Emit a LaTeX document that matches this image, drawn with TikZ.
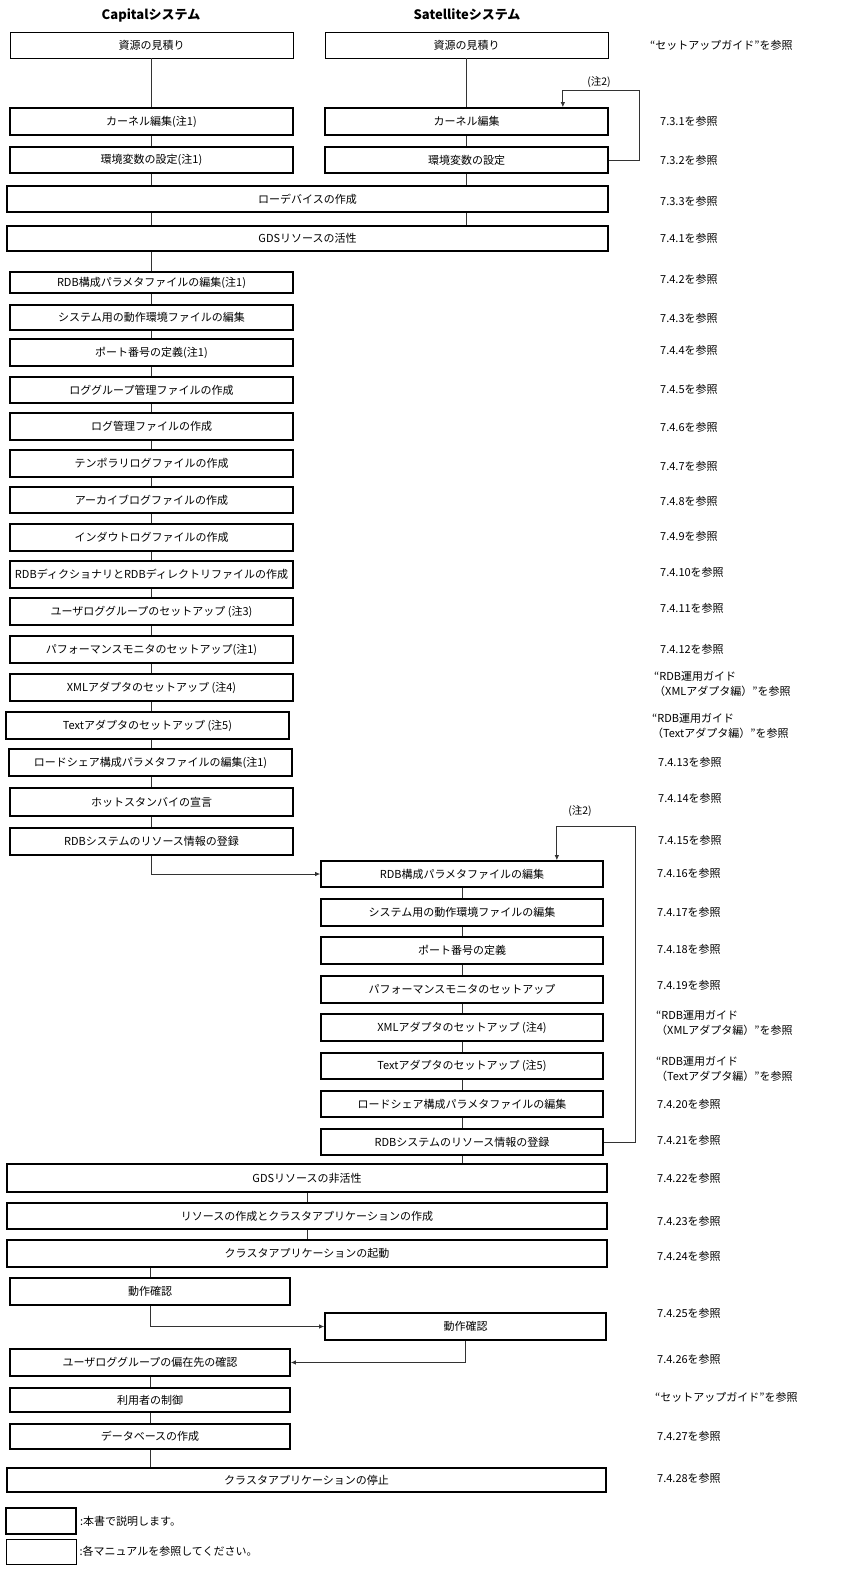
\documentclass[tikz,border=0pt]{standalone}
\usepackage{fontspec}
\setmainfont{Noto Sans CJK JP}
\usetikzlibrary{arrows.meta,calc}
\tikzset{
  box/.style={draw=black, line width=1.7pt, fill=white, inner sep=0pt, font=\fontsize{11}{13}\selectfont},
  thinbox/.style={box, line width=0.8pt},
  conn/.style={line width=0.8pt, draw=black!80},
  arr/.style={conn, -{Latex[length=5pt,width=4.5pt]}},
  lbl/.style={anchor=west, inner sep=0pt, font=\fontsize{11}{15}\selectfont, align=left},
  hdr/.style={inner sep=0pt, font=\fontsize{13}{15}\selectfont\bfseries},
  note/.style={inner sep=0pt, font=\fontsize{10.5}{12}\selectfont}
}
\newcommand\bx[7][box]{\node[#1, minimum width={(#5-#3)*1pt}, minimum height={(#6-#4)*1pt}] (#2) at ({(#3+#5)/2},{(#4+#6)/2}) {#7};}
\begin{document}
\begin{tikzpicture}[x=1pt,y=-1pt]
\useasboundingbox (0,0) rectangle (841,1572);
% headers
\node[hdr] (h1) at (151,15) {Capitalシステム};
\node[hdr] (h2) at (467,15) {Satelliteシステム};
% top boxes
\bx[thinbox]{capRes}{10}{32}{293}{58}{資源の見積り}
\bx[thinbox]{satRes}{325}{32}{608}{58}{資源の見積り}
\bx{capKer}{10}{108}{293}{135}{カーネル編集(注1)}
\bx{satKer}{325}{108}{608}{135}{カーネル編集}
\bx{capEnv}{10}{147}{293}{173}{環境変数の設定(注1)}
\bx{satEnv}{325}{147}{608}{173}{環境変数の設定}
\bx{raw}{7}{186}{608}{212}{ローデバイスの作成}
\bx{gds}{7}{226}{608}{251}{GDSリソースの活性}
% capital chain
\bx{c1}{10}{272}{293}{293}{RDB構成パラメタファイルの編集(注1)}
\bx{c2}{10}{305}{293}{330}{システム用の動作環境ファイルの編集}
\bx{c3}{10}{339}{293}{366}{ポート番号の定義(注1)}
\bx{c4}{10}{377}{293}{403}{ロググループ管理ファイルの作成}
\bx{c5}{10}{413}{293}{440}{ログ管理ファイルの作成}
\bx{c6}{10}{450}{293}{477}{テンポラリログファイルの作成}
\bx{c7}{10}{487}{293}{513}{アーカイブログファイルの作成}
\bx{c8}{10}{524}{293}{551}{インダウトログファイルの作成}
\bx{c9}{10}{561}{293}{588}{RDBディクショナリとRDBディレクトリファイルの作成}
\bx{c10}{10}{598}{293}{625}{ユーザロググループのセットアップ (注3)}
\bx{c11}{10}{636}{293}{663}{パフォーマンスモニタのセットアップ(注1)}
\bx{c12}{10}{674}{293}{701}{XMLアダプタのセットアップ (注4)}
\bx{c13}{6}{712}{289}{739}{Textアダプタのセットアップ (注5)}
\bx{c14}{9}{749}{292}{776}{ロードシェア構成パラメタファイルの編集(注1)}
\bx{c15}{10}{788}{293}{816}{ホットスタンバイの宣言}
\bx{c16}{10}{828}{293}{855}{RDBシステムのリソース情報の登録}
% satellite chain
\bx{s1}{321}{861}{603}{887}{RDB構成パラメタファイルの編集}
\bx{s2}{321}{899}{603}{926}{システム用の動作環境ファイルの編集}
\bx{s3}{321}{937}{603}{964}{ポート番号の定義}
\bx{s4}{321}{976}{603}{1003}{パフォーマンスモニタのセットアップ}
\bx{s5}{321}{1014}{603}{1041}{XMLアダプタのセットアップ (注4)}
\bx{s6}{321}{1053}{603}{1079}{Textアダプタのセットアップ (注5)}
\bx{s7}{321}{1091}{603}{1117}{ロードシェア構成パラメタファイルの編集}
\bx{s8}{321}{1129}{603}{1155}{RDBシステムのリソース情報の登録}
% final
\bx{f1}{7}{1164}{607}{1192}{GDSリソースの非活性}
\bx{f2}{7}{1203}{607}{1229}{リソースの作成とクラスタアプリケーションの作成}
\bx{f3}{7}{1240}{607}{1267}{クラスタアプリケーションの起動}
\bx{d1}{10}{1278}{290}{1305}{動作確認}
\bx{d2}{325}{1313}{606}{1340}{動作確認}
\bx{d3}{10}{1349}{290}{1376}{ユーザロググループの偏在先の確認}
\bx{d4}{10}{1388}{290}{1412}{利用者の制御}
\bx{d5}{10}{1424}{290}{1449}{データベースの作成}
\bx{f4}{7}{1468}{606}{1492}{クラスタアプリケーションの停止}
% legend
\bx{L1}{6}{1508}{76}{1534}{}
\bx[thinbox]{L2}{6}{1539}{76}{1564}{}
\node[lbl] (L1t) at ([xshift=3pt]L1.east) {:本書で説明します。};
\node[lbl] (L2t) at ([xshift=3pt]L2.east) {:各マニュアルを参照してください。};
% connectors capital
\draw[conn] (capRes.south) -- (capKer.north);
\draw[conn] (capKer.south) -- (capEnv.north);
\draw[conn] (capEnv.south) -- (capEnv.south |- raw.north);
\draw[conn] (capEnv.south |- raw.south) -- (capEnv.south |- gds.north);
\draw[conn] (c1.north |- gds.south) -- (c1.north);
\foreach \a/\b in {c1/c2,c2/c3,c3/c4,c4/c5,c5/c6,c6/c7,c7/c8,c8/c9,c9/c10,c10/c11,c11/c12,c12/c13,c13/c14,c14/c15,c15/c16}
  \draw[conn] (c1.north |- \a.south) -- (c1.north |- \b.north);
% connectors satellite
\draw[conn] (satRes.south) -- (satKer.north);
\draw[conn] (satKer.south) -- (satEnv.north);
\draw[conn] (satEnv.south) -- (satEnv.south |- raw.north);
\draw[conn] (satEnv.south |- raw.south) -- (satEnv.south |- gds.north);
\foreach \a/\b in {s1/s2,s2/s3,s3/s4,s4/s5,s5/s6,s6/s7,s7/s8}
  \draw[conn] (\a.south) -- (\b.north);
\draw[conn] (s8.south) -- (s8.south |- f1.north);
\draw[conn] (f1.south) -- (f2.north);
\draw[conn] (f2.south) -- (f3.north);
\draw[conn] (d1.north |- f3.south) -- (d1.north);
\draw[conn] (d3.south) -- (d4.north);
\draw[conn] (d4.south) -- (d5.north);
\draw[conn] (d5.south) -- (d5.south |- f4.north);
% cross arrows
\draw[arr] (c16.south) |- (s1.west);
\draw[arr] (d1.south) |- (d2.west);
\draw[arr] (d2.south) |- (d3.east);
% loops (note 2)
\coordinate (lp1) at (639,90);
\draw[arr] (satEnv.east) -| (lp1) -| ($(satKer.north east)+(-46,0)$);
\node[note] (n1) at (599,82) {(注2)};
\coordinate (lp2) at (635,826);
\draw[arr] (s8.east) -| (lp2) -| ($(s1.north east)+(-47,0)$);
\node[note] (n2) at (580,811) {(注2)};
% right labels
\node[lbl] (r0) at (650,45) {“セットアップガイド”を参照};
\node[lbl] (r1) at (660,121) {7.3.1を参照};
\node[lbl] (r2) at (660,160) {7.3.2を参照};
\node[lbl] (r3) at (660,201) {7.3.3を参照};
\node[lbl] (r4) at (660,238) {7.4.1を参照};
\node[lbl] (r5) at (660,279) {7.4.2を参照};
\node[lbl] (r6) at (660,318) {7.4.3を参照};
\node[lbl] (r7) at (660,350) {7.4.4を参照};
\node[lbl] (r8) at (660,389) {7.4.5を参照};
\node[lbl] (r9) at (660,427) {7.4.6を参照};
\node[lbl] (r10) at (660,466) {7.4.7を参照};
\node[lbl] (r11) at (660,501) {7.4.8を参照};
\node[lbl] (r12) at (660,536) {7.4.9を参照};
\node[lbl] (r13) at (660,572) {7.4.10を参照};
\node[lbl] (r14) at (660,608) {7.4.11を参照};
\node[lbl] (r15) at (660,649) {7.4.12を参照};
\node[lbl] (r16) at (654,684) {“RDB運用ガイド\\（XMLアダプタ編）”を参照};
\node[lbl] (r17) at (652,726) {“RDB運用ガイド\\（Textアダプタ編）”を参照};
\node[lbl] (r18) at (658,762) {7.4.13を参照};
\node[lbl] (r19) at (658,798) {7.4.14を参照};
\node[lbl] (r20) at (658,840) {7.4.15を参照};
\node[lbl] (r21) at (657,873) {7.4.16を参照};
\node[lbl] (r22) at (657,912) {7.4.17を参照};
\node[lbl] (r23) at (657,949) {7.4.18を参照};
\node[lbl] (r24) at (657,985) {7.4.19を参照};
\node[lbl] (r25) at (656,1023) {“RDB運用ガイド\\（XMLアダプタ編）”を参照};
\node[lbl] (r26) at (656,1069) {“RDB運用ガイド\\（Textアダプタ編）”を参照};
\node[lbl] (r27) at (657,1104) {7.4.20を参照};
\node[lbl] (r28) at (657,1140) {7.4.21を参照};
\node[lbl] (r29) at (657,1178) {7.4.22を参照};
\node[lbl] (r30) at (657,1221) {7.4.23を参照};
\node[lbl] (r31) at (657,1256) {7.4.24を参照};
\node[lbl] (r32) at (657,1313) {7.4.25を参照};
\node[lbl] (r33) at (657,1359) {7.4.26を参照};
\node[lbl] (r34) at (655,1397) {“セットアップガイド”を参照};
\node[lbl] (r35) at (657,1436) {7.4.27を参照};
\node[lbl] (r36) at (657,1478) {7.4.28を参照};
\end{tikzpicture}
\end{document}
